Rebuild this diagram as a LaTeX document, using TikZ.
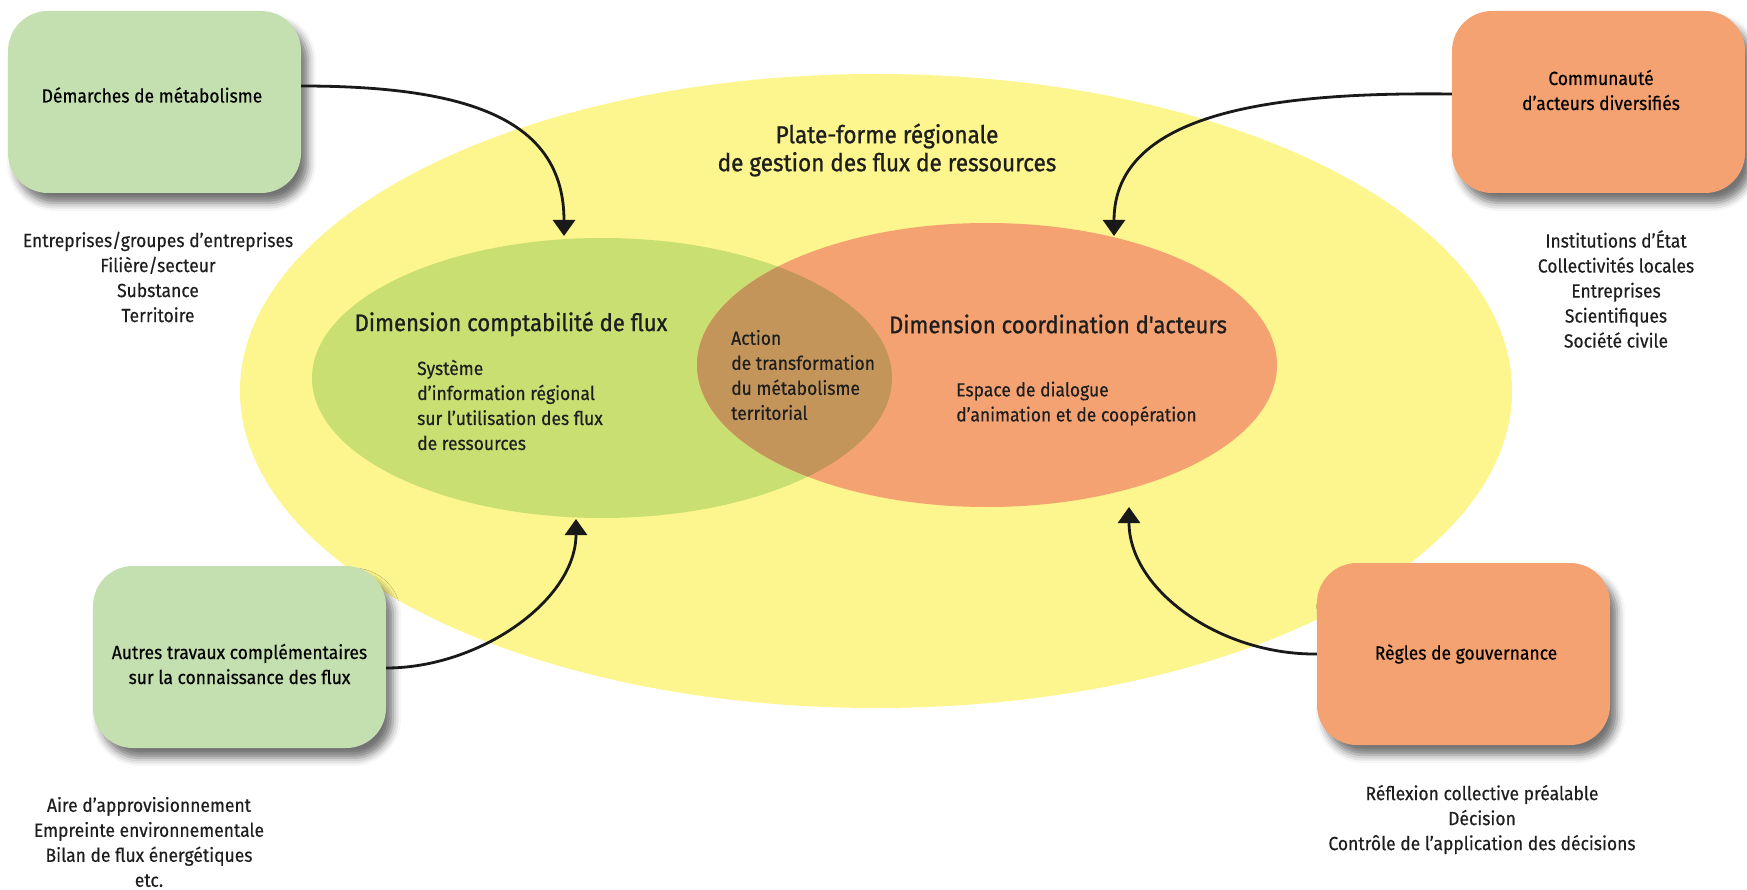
\documentclass[tikz,border=0pt]{standalone}
\usepackage{fontspec}
\setmainfont{Fira Sans}[FakeStretch=0.92, FakeBold=0.4]
\newfontfamily\headfam{Fira Sans}[FakeStretch=0.92, FakeBold=1.0]
\usetikzlibrary{shapes.geometric,arrows.meta,shadows.blur}

\definecolor{paleyellow}{HTML}{FDF58D}
\definecolor{limegreen}{HTML}{C9DF72}
\definecolor{salmon}{HTML}{F4A272}
\definecolor{olivebrown}{HTML}{C4955A}
\definecolor{mintbox}{HTML}{C5E0B0}
\definecolor{ink}{HTML}{1E1E1E}

\tikzset{
  basefont/.style={font=\fontsize{19}{25}\selectfont, text=ink},
  headfont/.style={font=\headfam\fontsize{24}{28}\selectfont, text=ink},
  titlefont/.style={font=\headfam\fontsize{24.5}{28}\selectfont, text=ink},
  card/.style={rounded corners=40pt, minimum width=293pt, minimum height=182pt,
    inner sep=0pt,
    blur shadow={shadow xshift=7pt, shadow yshift=-10pt, shadow blur radius=8pt, shadow opacity=55}},
  greencard/.style={card, fill=mintbox},
  orangecard/.style={card, fill=salmon},
  cardtext/.style={basefont, text=black, align=center, inner sep=0pt},
  listtext/.style={basefont, align=center, inner sep=0pt},
  bodytext/.style={basefont, align=left, inner sep=0pt, anchor=west},
  conn/.style={draw=black!90, line width=2.8pt, -{Triangle[width=22pt,length=16pt]}}
}

\begin{document}
\begin{tikzpicture}[x=1pt,y=-1pt]
\useasboundingbox (0,0) rectangle (1747,890);

% regional platform and its two dimensions
\node[ellipse, fill=paleyellow, minimum width=1272pt, minimum height=634pt, inner sep=0pt] (platform) at (876,391) {};
\node[ellipse, fill=limegreen, minimum width=580pt, minimum height=280pt, inner sep=0pt] (accounting) at (602,378) {};
\node[ellipse, fill=salmon, minimum width=580pt, minimum height=284pt, inner sep=0pt] (coordination) at (987,365) {};
\begin{scope}
  \clip (602,378) ellipse [x radius=290pt, y radius=140pt];
  \fill[olivebrown] (987,365) ellipse [x radius=290pt, y radius=142pt];
\end{scope}

% texts inside the platform
\node[titlefont, align=center, inner sep=0pt] (title) at (887,150) {Plate-forme régionale\\de gestion des flux de ressources};
\node[headfont, inner sep=0pt] (acchead) at (511,324) {Dimension comptabilité de flux};
\node[headfont, inner sep=0pt] (coohead) at (1058,324) {Dimension coordination d'acteurs};
\node[bodytext] (accbody) at (417,405) {Système\\d'information régional\\sur l'utilisation des flux\\de ressources};
\node[bodytext] (actbody) at (731,375) {Action\\de transformation\\du métabolisme\\territorial};
\node[bodytext] (coobody) at (956,403.5) {Espace de dialogue\\d'animation et de coopération};

% surrounding cards and their captions
\node[greencard] (dem) at (154.5,102) {};
\node[cardtext] (demtext) at (152,95) {Démarches de métabolisme};
\node[orangecard] (comm) at (1598.5,102) {};
\node[cardtext] (commtext) at (1601,90) {Communauté\\d'acteurs diversifiés};
\node[greencard] (autres) at (239.5,657) {};
\node[cardtext] (autrestext) at (239.5,664) {Autres travaux complémentaires\\sur la connaissance des flux};
\node[orangecard] (regles) at (1463.5,654) {};
\node[cardtext] (reglestext) at (1466,654) {Règles de gouvernance};

% lists under the cards
\node[listtext] (demlist) at (158,277) {Entreprises/groupes d'entreprises\\Filière/secteur\\Substance\\Territoire};
\node[listtext] (commlist) at (1616,289) {Institutions d'État\\Collectivités locales\\Entreprises\\Scientifiques\\Société civile};
\node[listtext] (autreslist) at (149,842) {Aire d'approvisionnement\\Empreinte environnementale\\Bilan de flux énergétiques\\etc.};
\node[listtext] (regleslist) at (1482,819.5) {Réflexion collective préalable\\Décision\\Contrôle de l'application des décisions};

% connector end points on the two dimensions
\coordinate (tipA) at (564,236);
\coordinate (tipB) at (1114,236);
\coordinate (tipC) at (576,519);
\coordinate (tipD) at (1129,507);

\draw[conn] ([yshift=16pt]dem.east) .. controls (470,86) and (564,120) .. (tipA);
\draw[conn] ([yshift=8pt]comm.west) .. controls (1280,92) and (1114,110) .. (tipB);
\draw[conn] ([yshift=-11pt]autres.east) .. controls (480,668) and (576,600) .. (tipC);
\draw[conn] (regles.west) .. controls (1220,655) and (1129,590) .. (tipD);
\end{tikzpicture}
\end{document}
